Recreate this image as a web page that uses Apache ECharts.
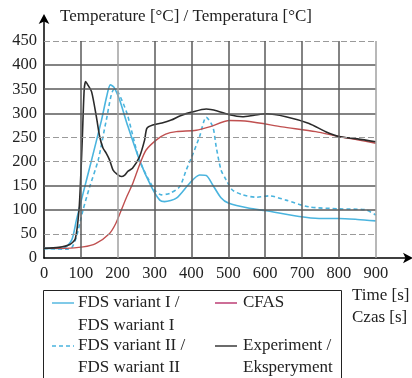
<!DOCTYPE html>
<html>
<head>
<meta charset="utf-8">
<script src="https://cdn.jsdelivr.net/npm/echarts@6/dist/echarts.min.js"></script>
<style>html,body{margin:0;padding:0;background:#fff}#c{width:412px;height:378px}</style>
</head>
<body>
<div id="c"></div>
<script>
// ---- data ----
const expTime = [0,40,70,85,95,100,104,109,113,118,129,142,151,160,169,178,187,198,210,219,228,240,259,273,279,295,320,345,370,403,440,470,503,538,570,602,656,719,764,800,850,900];
const expTemp = [20,22,28,40,100,175,250,349,366,360,345,293,252,228,217,203,183,174,169,172,180,186,210,245,269,276,280,286,295,303,309,305,297,293,296,299,293,279,262,252,247,241];

const cfasTime = [0,60,106,140,178,195,210,225,241,260,277,305,330,359,413,449,503,557,646,737,800,850,900];
const cfasTemp = [20,20,23,30,51,72,100,128,155,195,224,245,257,262,265,272,285,283,272,262,252,245,238];

const fds1Time = [0,52,75,88,106,129,156,170,180,190,205,225,259,291,314,327,359,395,422,440,458,480,500,557,602,692,746,800,850,900];
const fds1Temp = [20,20,37,79,134,203,286,335,359,354,328,279,203,148,120,117,124,155,172,171,151,125,114,103,98,86,82,82,80,77];

const fds2Time = [0,61,75,88,106,124,147,169,189,200,225,259,300,318,341,368,386,401,422,440,458,467,480,494,511,539,575,611,656,719,800,872,900];
const fds2Temp = [20,18,21,44,100,148,203,286,349,345,300,203,141,131,134,148,183,210,252,292,272,231,183,162,141,131,126,129,120,106,102,100,89];

const xTicks = [0,100,200,300,400,500,600,700,800,900];
const yTicks = [0,50,100,150,200,250,300,350,400,450];
const hDark = [100,150,300,350,400];
const hDashed = [50,200,250,450];
const vDark = [100,300,400,500,600,700,800];
const vLight = [200,900];

const names = ['FDS variant I / FDS wariant I','FDS variant II / FDS wariant II','CFAS','Experiment / Eksperyment'];

function pairs(t, v){ return t.map((x,i)=>[x, v[i]]); }

const FONT = 'Liberation Serif';
const BLUE = '#4ab4de', RED = '#c05050', BLACK = '#2b2b2b';
const TF = '17px "Liberation Serif"';

const gridMarks = [];
hDark.forEach(v=>gridMarks.push([{coord:[0,v],lineStyle:{color:'#5a5a5a',width:1.5,type:'solid'}},{coord:[900,v]}]));
hDashed.forEach(v=>gridMarks.push([{coord:[0,v],lineStyle:{color:'#9a9a9a',width:1.2,type:[6,3]}},{coord:[900,v]}]));
vDark.forEach(v=>gridMarks.push([{coord:[v,0],lineStyle:{color:'#5a5a5a',width:1.5,type:'solid'}},{coord:[v,450]}]));
vLight.forEach(v=>gridMarks.push([{coord:[v,0],lineStyle:{color:'#a0a0a0',width:1.5,type:'solid'}},{coord:[v,450]}]));

const chart = echarts.init(document.getElementById('c'), null, {renderer:'canvas'});
const lineBase = {type:'line', showSymbol:false, symbol:'none', smooth:0.25, z:3, silent:true};

chart.setOption({
  animation:false,
  backgroundColor:'#fff',
  textStyle:{fontFamily:FONT},
  grid:{left:44, right:1.7, top:16.9, bottom:120, containLabel:false},
  xAxis:{
    type:'value', min:0, max:990, interval:100,
    axisLine:{show:true, lineStyle:{color:'#000', width:1.5}, symbol:['none','arrow'], symbolSize:[8,10], symbolOffset:[0,4]},
    axisTick:{show:false},
    splitLine:{show:false},
    axisLabel:{fontFamily:FONT, fontSize:16.5, color:'#222', margin:7,
      formatter:v=> xTicks.indexOf(v)>=0 ? String(v) : ''}
  },
  yAxis:{
    type:'value', min:0, max:500, interval:50,
    axisLine:{show:true, lineStyle:{color:'#000', width:1.5}, symbol:['none','arrow'], symbolSize:[8,10], symbolOffset:[0,3]},
    axisTick:{show:false},
    splitLine:{show:false},
    axisLabel:{fontFamily:FONT, fontSize:16.5, color:'#222', margin:7,
      formatter:v=> yTicks.indexOf(v)>=0 ? String(v) : ''}
  },
  series:[
    {type:'line', data:[], z:1, silent:true,
      markLine:{silent:true, symbol:['none','none'], label:{show:false}, animation:false, data:gridMarks}},
    Object.assign({}, lineBase, {name:names[0], data:pairs(fds1Time,fds1Temp), lineStyle:{color:BLUE,width:1.6}}),
    Object.assign({}, lineBase, {name:names[1], data:pairs(fds2Time,fds2Temp), lineStyle:{color:BLUE,width:1.6,type:[4,3]}}),
    Object.assign({}, lineBase, {name:names[2], data:pairs(cfasTime,cfasTemp), lineStyle:{color:RED,width:1.4}}),
    Object.assign({}, lineBase, {name:names[3], data:pairs(expTime,expTemp), lineStyle:{color:BLACK,width:1.6}})
  ],
  graphic:[
    {type:'text', left:60, top:8, style:{text:'Temperature [°C] / Temperatura [°C]', font:TF, fill:'#222'}},
    {type:'text', left:352, top:287, style:{text:'Time [s]', font:TF, fill:'#222'}},
    {type:'text', left:352, top:309, style:{text:'Czas [s]', font:TF, fill:'#222'}},
    {type:'rect', shape:{x:43.5, y:290.5, width:298, height:100}, style:{fill:'none', stroke:'#222', lineWidth:1}},
    {type:'line', shape:{x1:52,y1:303,x2:74,y2:303}, style:{stroke:BLUE, lineWidth:1.4}},
    {type:'line', shape:{x1:52,y1:346,x2:74,y2:346}, style:{stroke:BLUE, lineWidth:1.4, lineDash:[4,3]}},
    {type:'line', shape:{x1:215,y1:303,x2:237,y2:303}, style:{stroke:'#b8306a', lineWidth:1.4}},
    {type:'line', shape:{x1:215,y1:346,x2:237,y2:346}, style:{stroke:BLACK, lineWidth:1.4}},
    {type:'text', left:78, top:294, style:{text:'FDS variant I /', font:TF, fill:'#222'}},
    {type:'text', left:78, top:317, style:{text:'FDS wariant I', font:TF, fill:'#222'}},
    {type:'text', left:78, top:337, style:{text:'FDS variant II /', font:TF, fill:'#222'}},
    {type:'text', left:78, top:359, style:{text:'FDS wariant II', font:TF, fill:'#222'}},
    {type:'text', left:243, top:294, style:{text:'CFAS', font:TF, fill:'#222'}},
    {type:'text', left:243, top:337, style:{text:'Experiment /', font:TF, fill:'#222'}},
    {type:'text', left:243, top:359, style:{text:'Eksperyment', font:TF, fill:'#222'}}
  ]
});
</script>
</body>
</html>
